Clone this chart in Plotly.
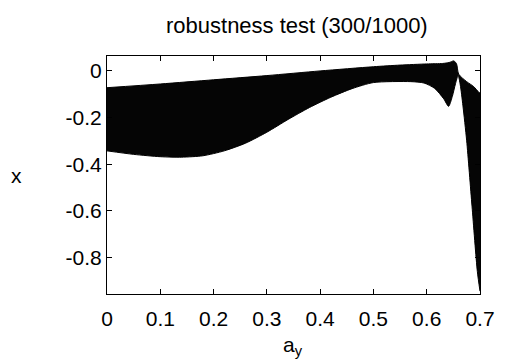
import plotly.graph_objects as go

# upper envelope of the band
ay_upper = [0, 0.1, 0.2, 0.3, 0.4, 0.5, 0.55, 0.6, 0.63, 0.642, 0.651, 0.656, 0.66, 0.675, 0.688, 0.698, 0.7]
x_upper = [-0.072, -0.056, -0.038, -0.02, 0.0, 0.018, 0.025, 0.03, 0.032, 0.036, 0.043, 0.03, -0.014, -0.046, -0.067, -0.092, -0.095]

# lower envelope of the band
ay_lower = [0, 0.05, 0.1, 0.14, 0.18, 0.22, 0.26, 0.3, 0.34, 0.38, 0.42, 0.46, 0.5, 0.57, 0.595,
            0.615, 0.632, 0.641, 0.648, 0.654, 0.659, 0.663, 0.668, 0.675, 0.685, 0.695, 0.7]
x_lower = [-0.343, -0.358, -0.368, -0.37, -0.364, -0.343, -0.31, -0.263, -0.208, -0.157, -0.113,
           -0.076, -0.05, -0.046, -0.052, -0.075, -0.12, -0.152, -0.11, -0.055, -0.02, -0.06,
           -0.15, -0.3, -0.58, -0.86, -0.945]

x_ticks = [0, 0.1, 0.2, 0.3, 0.4, 0.5, 0.6, 0.7]
x_ticklabels = ["0", "0.1", "0.2", "0.3", "0.4", "0.5", "0.6", "0.7"]
y_ticks = [0, -0.2, -0.4, -0.6, -0.8]
y_ticklabels = ["0", "-0.2", "-0.4", "-0.6", "-0.8"]

FONT = "Liberation Sans, Arial, sans-serif"

fig = go.Figure()
fig.add_trace(go.Scatter(x=ay_upper, y=x_upper, mode="lines",
                         line=dict(color="black", width=1, shape="spline", smoothing=0.7),
                         showlegend=False, hoverinfo="skip"))
fig.add_trace(go.Scatter(x=ay_lower, y=x_lower, mode="lines", fill="tonexty",
                         fillcolor="rgb(5,5,5)",
                         line=dict(color="black", width=1, shape="spline", smoothing=0.7),
                         showlegend=False, hoverinfo="skip"))

fig.update_layout(
    width=507, height=361,
    margin=dict(l=107, r=20, t=56, b=67),
    paper_bgcolor="white", plot_bgcolor="white",
    font=dict(family=FONT, size=21, color="black"),
    title=dict(text="robustness test (300/1000)", x=(107 + 486.7) / 2 / 507, xanchor="center",
               y=1 - 25 / 361, yanchor="middle", yref="container",
               font=dict(family=FONT, size=22, color="black")),
    showlegend=False,
)
fig.update_xaxes(range=[0, 0.7], tickvals=x_ticks, ticktext=x_ticklabels,
                 ticks="inside", ticklen=5, tickwidth=1, tickcolor="black",
                 ticklabelstandoff=6,
                 showline=True, linecolor="black", linewidth=1, mirror="allticks",
                 showgrid=False, zeroline=False)
fig.update_yaxes(range=[-0.957, 0.064], tickvals=y_ticks, ticktext=y_ticklabels,
                 ticks="inside", ticklen=5, tickwidth=1, tickcolor="black",
                 showline=True, linecolor="black", linewidth=1, mirror="allticks",
                 showgrid=False, zeroline=False)

fig.add_annotation(text="x", xref="paper", yref="paper", x=(15 - 107) / 379.4, y=0.5,
                   xanchor="center", yanchor="middle", showarrow=False,
                   font=dict(family=FONT, size=21, color="black"))
fig.add_annotation(text="a<sub>y</sub>", xref="paper", yref="paper", x=(296 - 107) / 379.4,
                   y=-(346 - 294) / 238, xanchor="center", yanchor="middle", showarrow=False,
                   font=dict(family=FONT, size=21, color="black"))

fig.write_html("out.html")
